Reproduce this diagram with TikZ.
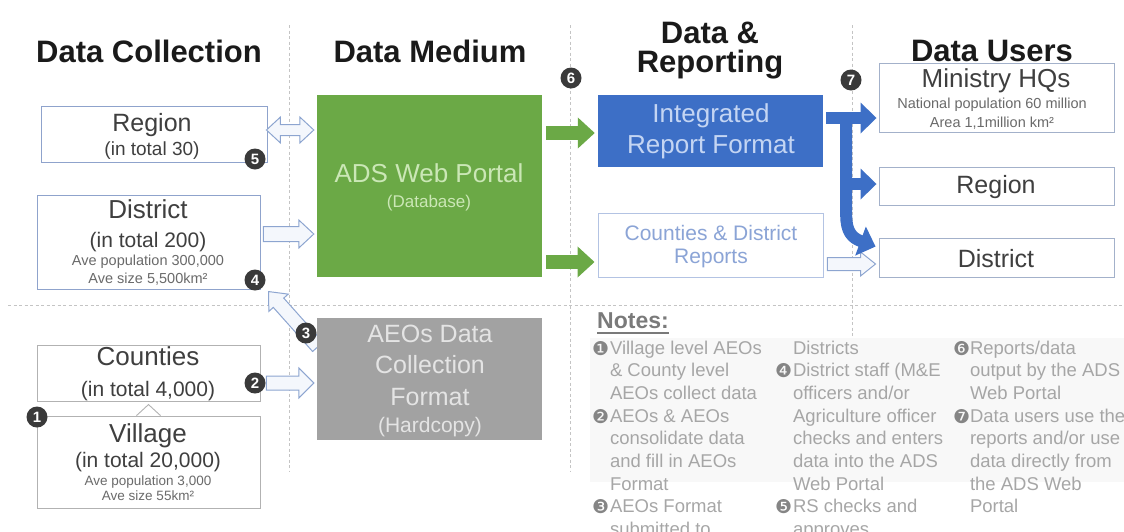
\documentclass[tikz,border=0pt]{standalone}
\usepackage{fontspec}
\setmainfont{Liberation Sans}
\newfontfamily\dejavu{DejaVu Sans}
\usetikzlibrary{arrows.meta,calc}
\definecolor{hdrc}{HTML}{1A1A1A}
\definecolor{bxline}{HTML}{8FA3CC}
\definecolor{bxgray}{HTML}{B2B2B2}
\definecolor{ubline}{HTML}{A3B1CA}
\definecolor{repline}{HTML}{B3C3E3}
\definecolor{txt}{HTML}{3F3F3F}
\definecolor{txtsm}{HTML}{6A6A6A}
\definecolor{grn}{HTML}{6BA946}
\definecolor{grntxt}{HTML}{CBE7B6}
\definecolor{gbox}{HTML}{A2A2A2}
\definecolor{gboxtxt}{HTML}{E4E4E4}
\definecolor{blu}{HTML}{3D6FC6}
\definecolor{blutxt}{HTML}{C4D5F3}
\definecolor{reptxt}{HTML}{8BA4D6}
\definecolor{dashc}{HTML}{C4C4C4}
\definecolor{badgec}{HTML}{3A3A3A}
\definecolor{notec}{HTML}{A6A6A6}
\definecolor{notebadge}{HTML}{858585}
\definecolor{notehd}{HTML}{7A7A7A}
\definecolor{notebg}{HTML}{F8F8F8}
\definecolor{harrow}{HTML}{8DA5D0}
\definecolor{hfill}{HTML}{F4F7FC}
\pgfdeclarelayer{bg}
\pgfsetlayers{bg,main}
\newcommand\fsz[1]{\fontsize{#1pt}{#1pt}\selectfont}
\newcommand\blockarrow[6]{%
  \path (#2) coordinate (bas) (#3) coordinate (bae);
  \pgfpointdiff{\pgfpointanchor{bas}{center}}{\pgfpointanchor{bae}{center}}%
  \pgfgetlastxy{\badx}{\bady}%
  \pgfmathsetmacro\baang{atan2(\bady,\badx)}%
  \pgfmathsetmacro\balen{veclen(\badx,\bady)}%
  \draw[#1,shift={(bas)},rotate=\baang] (0pt,#4) -- ({\balen pt-#6},#4) -- ({\balen pt-#6},#5) -- (\balen pt,0pt) -- ({\balen pt-#6},-#5) -- ({\balen pt-#6},-#4) -- (0pt,-#4) -- cycle;
}
\newcommand\dblarrow[6]{%
  \path (#2) coordinate (bas) (#3) coordinate (bae);
  \pgfpointdiff{\pgfpointanchor{bas}{center}}{\pgfpointanchor{bae}{center}}%
  \pgfgetlastxy{\badx}{\bady}%
  \pgfmathsetmacro\baang{atan2(\bady,\badx)}%
  \pgfmathsetmacro\balen{veclen(\badx,\bady)}%
  \draw[#1,shift={(bas)},rotate=\baang] (0pt,0pt) -- (#6,#5) -- (#6,#4) -- ({\balen pt-#6},#4) -- ({\balen pt-#6},#5) -- (\balen pt,0pt) -- ({\balen pt-#6},-#5) -- ({\balen pt-#6},-#4) -- (#6,-#4) -- (#6,-#5) -- cycle;
}
\begin{document}
\begin{tikzpicture}[x=1pt,y=-1pt,
  tx/.style={anchor=base,inner sep=0pt,outer sep=0pt,text=txt},
  hd/.style={tx,font=\fsz{31}\bfseries,text=hdrc},
  bx/.style={draw=bxline,line width=0.9pt,fill=white,inner sep=0pt},
  gbx/.style={bx,draw=bxgray},
  ubx/.style={bx,draw=ubline},
  solidbox/.style={inner sep=0pt},
  badge/.style={circle,fill=badgec,text=white,font=\fsz{15}\bfseries,minimum size=21pt,inner sep=0pt},
  dsh/.style={draw=dashc,line width=0.8pt,dash pattern=on 3pt off 2.5pt},
  hollow/.style={draw=harrow,line width=1pt,fill=hfill,line join=miter},
  garr/.style={draw=grn,line width=14pt,-{Triangle[width=30pt,length=17pt]}},
  barr/.style={draw=blu,line width=12pt,-{Triangle[width=30pt,length=16pt]}},
  nt/.style={anchor=base west,inner sep=0pt,outer sep=0pt,font=\fsz{18.5},text=notec},
  nb/.style={anchor=base west,inner sep=0pt,outer sep=0pt,font=\dejavu\fsz{19},text=notebadge},
]
\useasboundingbox (0,0) rectangle (1124,531);

% ---------- boxes ----------
\node[bx,minimum width=226pt,minimum height=56pt] (reg) at (154,134) {};
\node[bx,minimum width=223pt,minimum height=94pt] (dist) at (148.5,242) {};
\node[gbx,minimum width=223pt,minimum height=56pt] (cnty) at (148.5,373) {};
\node[gbx,minimum width=223pt,minimum height=92pt] (vill) at (148.5,462) {};
\node[solidbox,fill=grn,minimum width=225pt,minimum height=182pt] (ads) at (429.5,186) {};
\node[solidbox,fill=gbox,minimum width=225pt,minimum height=122pt] (aeo) at (429.5,379) {};
\node[solidbox,fill=blu,minimum width=225pt,minimum height=72pt] (irf) at (710.5,131) {};
\node[bx,draw=repline,minimum width=225pt,minimum height=64pt] (rep) at (710.5,245) {};
\node[ubx,minimum width=235pt,minimum height=69pt] (min) at (996.5,97.5) {};
\node[ubx,minimum width=235pt,minimum height=38pt] (ureg) at (996.5,186) {};
\node[ubx,minimum width=235pt,minimum height=39pt] (udis) at (996.5,257.5) {};

% ---------- background: guides, arrow 3 ----------
\begin{pgfonlayer}{bg}
  \fill[notebg] (590,338) rectangle (1124,482);
  \draw[dsh] (289,25) -- (289,472);
  \draw[dsh] (570,25) -- (570,472);
  \draw[dsh] (852,25) -- (852,338);
  \draw[dsh] (8,305) -- (1124,305);
  \blockarrow{hollow}{$(aeo.north west)+(1,29)$}{$(dist.south east)+(8,2)$}{7pt}{13pt}{15pt}
\end{pgfonlayer}

% ---------- hollow arrows ----------
\dblarrow{hollow}{$(reg.east)+(-1,-4)$}{$(ads.west)+(-3,-56)$}{5.5pt}{13pt}{14pt}
\blockarrow{hollow}{$(dist.east)+(3,-8)$}{$(ads.west)+(-3,48)$}{7.5pt}{14pt}{15pt}
\blockarrow{hollow}{$(cnty.east)+(6,10)$}{$(aeo.west)+(-3,4)$}{7pt}{15pt}{15pt}
\blockarrow{hollow}{$(rep.east)+(4,19)$}{$(udis.west)+(-3,6.5)$}{6.5pt}{12pt}{15pt}
\draw[draw=bxgray,fill=white,line width=0.9pt] ($(vill.north)+(-12,0)$) -- ($(vill.north)+(0,-11)$) -- ($(vill.north)+(12,0)$);

% ---------- green arrows ----------
\draw[garr] ($(ads.east)+(4,-53)$) -- ($(irf.west)+(-3,2)$);
\draw[garr] ($(ads.east)+(4,76)$) -- ($(rep.west)+(-3,17)$);

% ---------- blue arrows ----------
\coordinate (bj) at ($(irf.east)+(23,-13)$);
\draw[barr] (bj) -- ($(bj)+(0,97)$) .. controls ($(bj)+(0,114)$) and ($(bj)+(6,120)$) .. ($(udis.north west)+(-3,9)$);
\draw[barr] ($(bj|-ureg.west)+(0,-2)$) -- ($(ureg.west)+(-2,-2)$);
\draw[barr] ($(irf.east)+(3,-13)$) -- ($(min.west)+(-2,20.5)$);

% ---------- headers ----------
\node[hd] (h1) at (149,62) {Data Collection};
\node[hd] (h2) at (430,62) {Data Medium};
\node[hd] (h3a) at (710,43) {Data \&};
\node[hd] (h3b) at (710,72) {Reporting};
\node[hd] (h4) at (992,61) {Data Users};

% ---------- box texts ----------
\node[tx,font=\fsz{25}] (t1) at (152,131) {Region};
\node[tx,font=\fsz{19}] (t2) at (152,155) {(in total 30)};
\node[tx,font=\fsz{26}] (t3) at (148,218) {District};
\node[tx,font=\fsz{21}] (t4) at (148,247) {(in total 200)};
\node[tx,font=\fsz{14.5},text=txtsm] (t5) at (148,265) {Ave population 300,000};
\node[tx,font=\fsz{14.5},text=txtsm] (t6) at (148,283) {Ave size 5,500km²};
\node[tx,font=\fsz{26}] (t7) at (148,365) {Counties};
\node[tx,font=\fsz{21}] (t8) at (148,396) {(in total 4,000)};
\node[tx,font=\fsz{26}] (t9) at (148,442) {Village};
\node[tx,font=\fsz{21}] (t10) at (148,467) {(in total 20,000)};
\node[tx,font=\fsz{13.5},text=txtsm] (t11) at (148,485) {Ave population 3,000};
\node[tx,font=\fsz{13.5},text=txtsm] (t12) at (148,500) {Ave size 55km²};

\node[tx,font=\fsz{26},text=grntxt] (t13) at (429,182) {ADS Web Portal};
\node[tx,font=\fsz{17},text=grntxt] (t14) at (429,207) {(Database)};
\node[tx,font=\fsz{25},text=gboxtxt] (t15) at (430,342) {AEOs Data};
\node[tx,font=\fsz{25},text=gboxtxt] (t16) at (430,373) {Collection};
\node[tx,font=\fsz{25},text=gboxtxt] (t17) at (430,405) {Format};
\node[tx,font=\fsz{21},text=gboxtxt] (t18) at (430,432) {(Hardcopy)};
\node[tx,font=\fsz{26},text=blutxt] (t19) at (711,122) {Integrated};
\node[tx,font=\fsz{26},text=blutxt] (t20) at (711,153) {Report Format};
\node[tx,font=\fsz{21},text=reptxt] (t21) at (711,240) {Counties \& District};
\node[tx,font=\fsz{21},text=reptxt] (t22) at (711,263) {Reports};
\node[tx,font=\fsz{26}] (t23) at (996,87) {Ministry HQs};
\node[tx,font=\fsz{14.5},text=txtsm] (t24) at (992,108) {National population 60 million};
\node[tx,font=\fsz{14.5},text=txtsm] (t25) at (992,127) {Area 1,1million km²};
\node[tx,font=\fsz{25}] (t26) at (996,193) {Region};
\node[tx,font=\fsz{25}] (t27) at (996,267) {District};

% ---------- badges ----------
\node[badge] (b1) at (37,417) {1};
\node[badge] (b2) at (255,383) {2};
\node[badge] (b3) at (306,333) {3};
\node[badge] (b4) at (255,280) {4};
\node[badge] (b5) at (255,159) {5};
\node[badge] (b6) at (571,78) {6};
\node[badge] (b7) at (851,80) {7};

% ---------- notes ----------
\node[anchor=base west,inner sep=0pt,font=\fsz{23}\bfseries,text=notehd] (nh) at (597,328) {Notes:};
\draw[notehd,line width=1.3pt] ($(nh.base west)+(0,5)$) -- ($(nh.base east)+(0,5)$);

% column 1
\node[nb] (n1b) at (592,355) {❶};
\node[nt] (n1a) at (610,354) {Village level AEOs};
\node[nt] (n1c) at (610,376.7) {\& County level};
\node[nt] (n1d) at (610,399.4) {AEOs collect data};
\node[nb] (n2b) at (592,423.1) {❷};
\node[nt] (n2a) at (610,422.1) {AEOs \& AEOs};
\node[nt] (n2c) at (610,444.8) {consolidate data};
\node[nt] (n2d) at (610,467.5) {and fill in AEOs};
\node[nt] (n2e) at (610,490.2) {Format};
\node[nb] (n3b) at (592,513.9) {❸};
\node[nt] (n3a) at (610,512.9) {AEOs Format};
\node[nt] (n3c) at (610,535.6) {submitted to};
% column 2
\node[nt] (n3d) at (793,354) {Districts};
\node[nb] (n4b) at (775,377.7) {❹};
\node[nt] (n4a) at (793,376.7) {District staff (M\&E};
\node[nt] (n4c) at (793,399.4) {officers and/or};
\node[nt] (n4d) at (793,422.1) {Agriculture officer};
\node[nt] (n4e) at (793,444.8) {checks and enters};
\node[nt] (n4f) at (793,467.5) {data into the ADS};
\node[nt] (n4g) at (793,490.2) {Web Portal};
\node[nb] (n5b) at (775,513.9) {❺};
\node[nt] (n5a) at (793,512.9) {RS checks and};
\node[nt] (n5c) at (793,535.6) {approves};
% column 3
\node[nb] (n6b) at (953,355) {❻};
\node[nt] (n6a) at (970,354) {Reports/data};
\node[nt] (n6c) at (970,376.7) {output by the ADS};
\node[nt] (n6d) at (970,399.4) {Web Portal};
\node[nb] (n7b) at (953,423.1) {❼};
\node[nt] (n7a) at (970,422.1) {Data users use the};
\node[nt] (n7c) at (970,444.8) {reports and/or use};
\node[nt] (n7d) at (970,467.5) {data directly from};
\node[nt] (n7e) at (970,490.2) {the ADS Web};
\node[nt] (n7f) at (970,512.9) {Portal};
\end{tikzpicture}
\end{document}
